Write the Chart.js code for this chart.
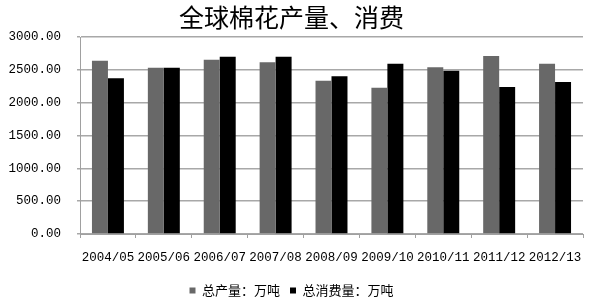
<!DOCTYPE html>
<html>
<head>
<meta charset="utf-8">
<script src="https://cdn.jsdelivr.net/npm/chart.js@4"></script>
<style>
  html, body { margin: 0; padding: 0; background: #fff; }
  #wrap { width: 600px; height: 307px; }
</style>
</head>
<body>
<div id="wrap"><canvas id="cottonChart" width="600" height="307"></canvas></div>
<script>
// Chart data
const seasons = ['2004/05', '2005/06', '2006/07', '2007/08', '2008/09', '2009/10', '2010/11', '2011/12', '2012/13'];
const production = [2639, 2533, 2654, 2614, 2335, 2228, 2538, 2711, 2594];
const consumption = [2371, 2533, 2700, 2700, 2401, 2594, 2487, 2239, 2315];
const yTicks = [0, 500, 1000, 1500, 2000, 2500, 3000];

const tickFont = { family: '"Liberation Mono", monospace', size: 12.5 };

new Chart(document.getElementById('cottonChart'), {
  type: 'bar',
  data: {
    labels: seasons,
    datasets: [
      {
        label: '总产量：万吨',
        data: production,
        backgroundColor: '#686868',
        borderWidth: 0
      },
      {
        label: '总消费量：万吨',
        data: consumption,
        backgroundColor: '#000000',
        borderWidth: 0
      }
    ]
  },
  options: {
    responsive: false,
    animation: false,
    devicePixelRatio: 1,
    categoryPercentage: 0.572,
    barPercentage: 1,
    layout: { padding: { left: 0, right: 17, top: 0, bottom: 0 } },
    plugins: {
      title: {
        display: true,
        text: '全球棉花产量、消费',
        color: '#000',
        font: { family: '"Noto Sans CJK SC", sans-serif', size: 25, weight: 'normal' },
        padding: { top: 2, bottom: 5 }
      },
      legend: {
        position: 'bottom',
        labels: {
          color: '#000',
          font: { family: '"Noto Sans CJK SC", sans-serif', size: 13 },
          boxWidth: 6,
          boxHeight: 6,
          padding: 10
        }
      },
      tooltip: { enabled: false }
    },
    scales: {
      x: {
        afterFit: scale => { scale.height = 40; },
        grid: {
          display: true,
          drawOnChartArea: false,
          drawTicks: true,
          tickLength: 4,
          color: '#a0a0a0'
        },
        border: { color: '#a0a0a0', width: 1 },
        ticks: {
          color: '#000',
          font: tickFont,
          padding: 12,
          maxRotation: 0,
          autoSkip: false
        }
      },
      y: {
        min: 0,
        max: 3000,
        afterFit: scale => { scale.width = 80; },
        afterBuildTicks: scale => {
          scale.ticks = yTicks.map(v => ({ value: v }));
        },
        grid: {
          color: '#a8a8a8',
          lineWidth: 1.5,
          tickLength: 3
        },
        border: { color: '#a0a0a0', width: 1 },
        ticks: {
          color: '#000',
          font: tickFont,
          padding: 16,
          callback: v => v.toFixed(2)
        }
      }
    }
  }
});
</script>
</body>
</html>
